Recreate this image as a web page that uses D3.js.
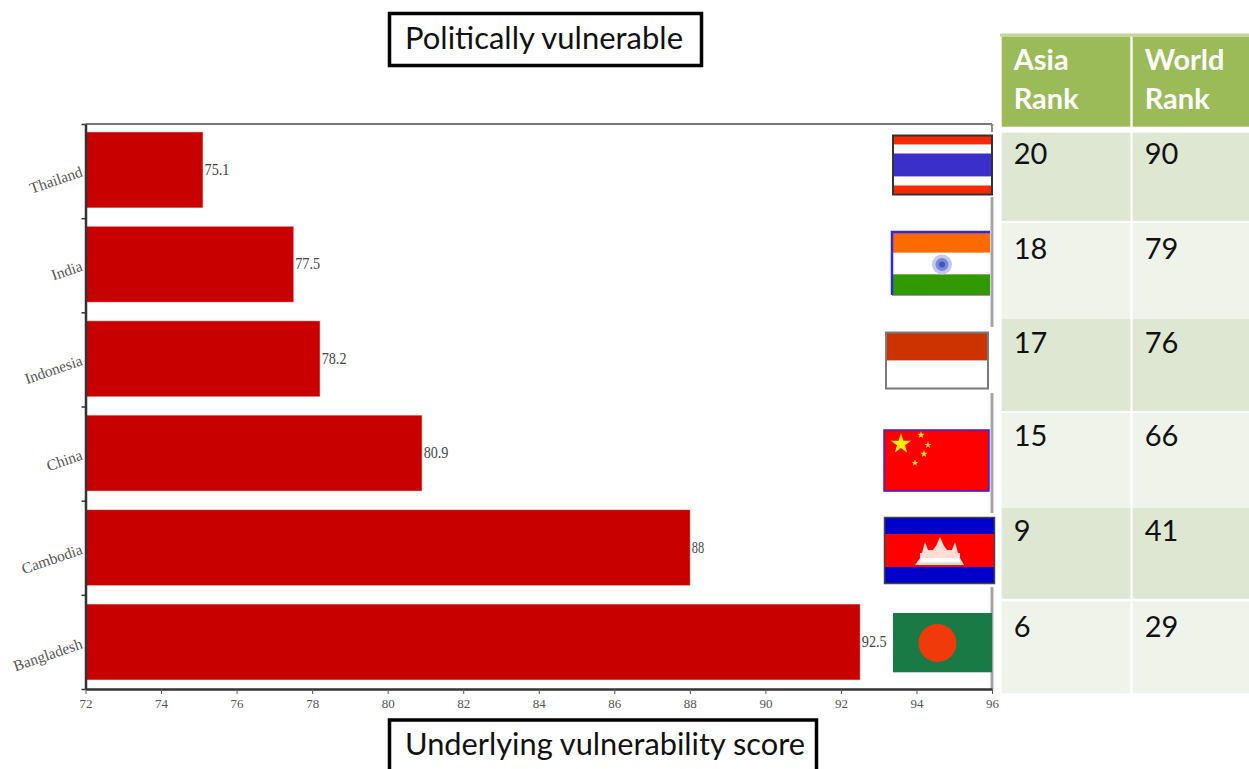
<!DOCTYPE html>
<html>
<head>
<meta charset="utf-8">
<script src="https://cdn.jsdelivr.net/npm/d3@7"></script>
<style>
  html, body { margin: 0; padding: 0; background: #fff; overflow: hidden; }
  svg { display: block; }
</style>
</head>
<body>
<svg id="chart" width="1249" height="769"></svg>
<script>
const countries = ["Thailand", "India", "Indonesia", "China", "Cambodia", "Bangladesh"];
const scores = [75.1, 77.5, 78.2, 80.9, 88, 92.5];
const xTicks = [72, 74, 76, 78, 80, 82, 84, 86, 88, 90, 92, 94, 96];
const asiaRank = [20, 18, 17, 15, 9, 6];
const worldRank = [90, 79, 76, 66, 41, 29];

const SERIF = "'Liberation Serif', serif";
const SANS = "Lato, 'Open Sans', sans-serif";

const svg = d3.select("#chart");

const AX_L = 85.5, AX_R = 992, AX_T = 124, AX_B = 689;
const xS = d3.scaleLinear().domain([72, 96]).range([AX_L, AX_R]);
const yS = d3.scaleBand().domain(countries).range([122.9, AX_B]).paddingInner(0.205).paddingOuter(0.1);
const yEdge = d3.scaleLinear().domain([0, 6]).range([AX_T, AX_B]);

// top and right frame, grey
svg.append("path")
  .attr("d", `M${AX_L},${AX_T}H${AX_R}`)
  .attr("fill", "none").attr("stroke", "#777").attr("stroke-width", 2);
svg.append("path")
  .attr("d", `M${AX_R},${AX_T}V${AX_B}`)
  .attr("fill", "none").attr("stroke", "#a6a6a6").attr("stroke-width", 3);

// bars
svg.append("g").selectAll("rect")
  .data(countries)
  .join("rect")
  .attr("x", xS(72))
  .attr("y", d => yS(d))
  .attr("width", (d, i) => xS(scores[i]) - xS(72))
  .attr("height", yS.bandwidth())
  .attr("fill", "#c80000")
  .attr("stroke", "rgba(200,0,0,0.45)");

// value labels
svg.append("g").selectAll("text")
  .data(countries)
  .join("text")
  .attr("x", (d, i) => xS(scores[i]) + 2)
  .attr("y", d => yS(d) + yS.bandwidth() / 2 + 5)
  .attr("font-family", SERIF).attr("font-size", 16).attr("fill", "#444")
  .attr("textLength", (d, i) => String(scores[i]).length * 6.2)
  .attr("lengthAdjust", "spacingAndGlyphs")
  .text((d, i) => scores[i]);

// axes
const xAxis = d3.axisBottom(xS).tickValues(xTicks).tickSize(5).tickSizeOuter(0).tickPadding(5);
const gx = svg.append("g").attr("transform", `translate(0,${AX_B})`).call(xAxis);
gx.select(".domain").attr("stroke", "#333").attr("stroke-width", 2.5);
gx.selectAll(".tick line").attr("stroke", "#555");
gx.selectAll(".tick text").attr("font-family", SERIF).attr("font-size", 13).attr("fill", "#555");

const yAxis = d3.axisLeft(yEdge).tickValues(d3.range(0, 7)).tickFormat("").tickSize(4).tickSizeOuter(0);
const gy = svg.append("g").attr("transform", `translate(${AX_L},0)`).call(yAxis);
gy.select(".domain").attr("stroke", "#333").attr("stroke-width", 2.5);
gy.selectAll(".tick line").attr("stroke", "#333").attr("stroke-width", 1.5);

svg.append("g").selectAll("text")
  .data(countries)
  .join("text")
  .attr("transform", d => `translate(${AX_L - 2},${yS(d) + yS.bandwidth() / 2 + 6}) rotate(-19)`)
  .attr("text-anchor", "end")
  .attr("font-family", SERIF).attr("font-size", 15.4).attr("fill", "#555")
  .text(d => d);

// flags
function flag(box, stripes, stroke, strokeWidth) {
  const g = svg.append("g");
  let y = box.y;
  const total = d3.sum(stripes, s => s[1]);
  stripes.forEach(([c, h]) => {
    const sh = h / total * box.h;
    g.append("rect").attr("x", box.x).attr("y", y).attr("width", box.w).attr("height", sh + 0.3).attr("fill", c);
    y += sh;
  });
  if (stroke) {
    g.append("rect").attr("x", box.x).attr("y", box.y).attr("width", box.w).attr("height", box.h)
      .attr("fill", "none").attr("stroke", stroke).attr("stroke-width", strokeWidth);
  }
  return g;
}
const blank = (y0, y1) => svg.append("rect").attr("x", 985).attr("y", y0).attr("width", 14).attr("height", y1 - y0).attr("fill", "#fff");

// Thailand
blank(126, 197);
svg.append("path").attr("d", `M${AX_R},${AX_T}V132`).attr("stroke", "#8c8c8c").attr("stroke-width", 2);
flag({ x: 893, y: 135.5, w: 99, h: 59 },
  [["#f52a00", 9], ["#fff", 9], ["#3a2fc8", 23], ["#fff", 9], ["#f52a00", 9]], "#333", 2);

// India
const fi = flag({ x: 892, y: 232, w: 98, h: 63 },
  [["#ff6a00", 20], ["#fff", 21], ["#339900", 20]], null);
fi.append("path").attr("d", "M892,295V232H990").attr("fill", "none").attr("stroke", "#2a2ae0").attr("stroke-width", 2.5);
fi.append("path").attr("d", "M892,295H990").attr("fill", "none").attr("stroke", "#666").attr("stroke-width", 1);
fi.append("circle").attr("cx", 942).attr("cy", 264.5).attr("r", 10).attr("fill", "#c4c8ec");
fi.append("circle").attr("cx", 942).attr("cy", 264.5).attr("r", 6.5).attr("fill", "#7a88d8");
fi.append("circle").attr("cx", 942).attr("cy", 264.5).attr("r", 3).attr("fill", "#3f55c0");

// Indonesia
blank(327, 393);
flag({ x: 886, y: 332.5, w: 102, h: 56 }, [["#cc3300", 1], ["#fff", 1]], "#7a7a7a", 2);

// China
const fc = flag({ x: 884, y: 430, w: 105, h: 61 }, [["#ff0000", 1]], "#2a2ae0", 1.5);
const star = d3.symbol().type(d3.symbolStar);
[[901, 444, 130], [921, 435, 16], [928, 445, 14], [924, 454, 16], [915, 463, 14]].forEach(([x, y, s]) =>
  fc.append("path").attr("d", star.size(s)()).attr("transform", `translate(${x},${y})`).attr("fill", "#ffee00")
);

// Cambodia
blank(513, 587);
const fk = flag({ x: 884.5, y: 517.5, w: 110, h: 66 }, [["#0000cc", 1], ["#ff0000", 2], ["#0000cc", 1]], "#444", 1.5);
fk.append("path")
  .attr("d", "M915,565L920,558V553H922L925,542L928,550H933L936,546L940,537L944,546L947,550H952L955,542L958,553H960V558L964,565Z")
  .attr("fill", "#ffdcd4");
fk.append("path")
  .attr("d", "M920,560H960")
  .attr("stroke", "#fff").attr("stroke-width", 4);

// Bangladesh
const fb = flag({ x: 893, y: 613, w: 99, h: 59 }, [["#1a7a45", 1]], null);
fb.append("circle").attr("cx", 937.5).attr("cy", 643).attr("r", 19).attr("fill", "#f03a0a");

// text boxes
function labelBox(x, y, w, h, label, tx, ty, len) {
  svg.append("rect").attr("x", x).attr("y", y).attr("width", w).attr("height", h)
    .attr("fill", "#fff").attr("stroke", "#000").attr("stroke-width", 3.5);
  svg.append("text").attr("x", tx).attr("y", ty)
    .attr("font-family", SANS).attr("font-size", 31).attr("fill", "#111")
    .attr("textLength", len).attr("lengthAdjust", "spacingAndGlyphs").text(label);
}
labelBox(389.5, 13.5, 312, 52, "Politically vulnerable", 405, 49, 278);
labelBox(389.5, 720, 427, 70, "Underlying vulnerability score", 405, 755, 400);

// rank table
const COL_X = [1001.7, 1132.7];
const COL_W = [128.6, 116.3];
const ROW_TOP = [132.7, 223, 319, 413, 507.7, 601.5];
const ROW_BOT = [221, 319, 411, 507.7, 598.7, 693.3];
const ROW_BASE = [164, 259, 353, 446, 541, 637];

svg.append("rect").attr("x", 1000).attr("y", 33.5).attr("width", 249).attr("height", 3.2).attr("fill", "#c3d69b");
["Asia", "World"].forEach((first, c) => {
  svg.append("rect").attr("x", COL_X[c]).attr("y", 36.7).attr("width", COL_W[c]).attr("height", 90).attr("fill", "#9bbb59");
  svg.append("text").attr("x", COL_X[c] + 12).attr("y", 70)
    .attr("font-family", SANS).attr("font-weight", 700).attr("font-size", 29).attr("fill", "#fff").text(first);
  svg.append("text").attr("x", COL_X[c] + 12).attr("y", 109)
    .attr("font-family", SANS).attr("font-weight", 700).attr("font-size", 29).attr("fill", "#fff").text("Rank");
});

[asiaRank, worldRank].forEach((col, c) => {
  const g = svg.append("g");
  g.selectAll("rect").data(col).join("rect")
    .attr("x", COL_X[c]).attr("y", (d, i) => ROW_TOP[i])
    .attr("width", COL_W[c])
    .attr("height", (d, i) => ROW_BOT[i] - ROW_TOP[i])
    .attr("fill", (d, i) => i % 2 ? "#eff3ea" : "#dee7d2");
  g.selectAll("text").data(col).join("text")
    .attr("x", COL_X[c] + 12).attr("y", (d, i) => ROW_BASE[i])
    .attr("font-family", SANS).attr("font-size", 29).attr("fill", "#111")
    .text(d => d);
});
</script>
</body>
</html>
